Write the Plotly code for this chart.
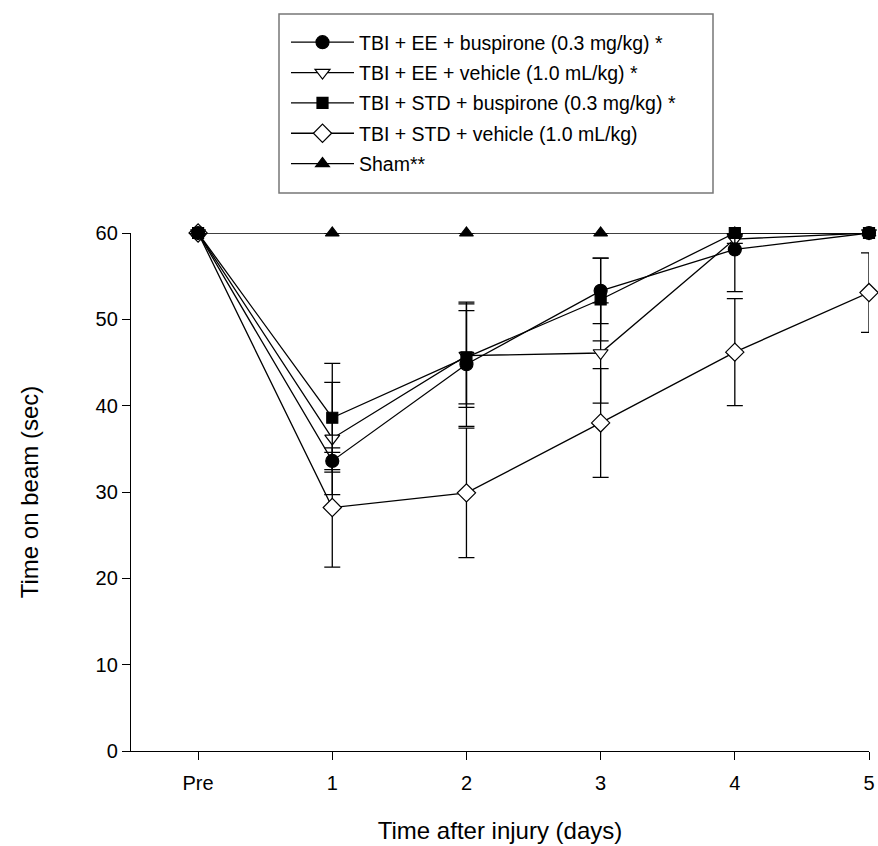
import numpy as np
import plotly.graph_objects as go

tick_labels = ["Pre", "1", "2", "3", "4", "5"]
x_pos = [0, 1, 2, 3, 4, 5]

names = [
    "TBI + EE + buspirone (0.3 mg/kg) *",
    "TBI + EE + vehicle (1.0 mL/kg) *",
    "TBI + STD + buspirone (0.3 mg/kg) *",
    "TBI + STD + vehicle (1.0 mL/kg)",
    "Sham**",
]

ee_busp = [60, 33.6, 44.8, 53.3, 58.1, 60]
ee_busp_err = [0, 1.0, 7.2, 3.8, 4.9, 0]
ee_veh = [60, 36.2, 45.8, 46.1, 59.3, 60]
ee_veh_err = [0, 6.5, 6.0, 5.8, 0.5, 0]
std_busp = [60, 38.6, 45.6, 52.3, 60, 60]
std_busp_err = [0, 6.3, 5.4, 4.8, 0, 0]
std_veh = [60, 28.2, 29.9, 38.0, 46.2, 53.1]
std_veh_err = [0, 6.9, 7.5, 6.3, 6.2, 4.6]
sham = [60, 60, 60, 60, 60, 60]
sham_err = [0, 0, 0, 0, 0, 0]

series = [
    (names[4], sham, sham_err, "triangle-up", "black", 12),
    (names[3], std_veh, std_veh_err, "diamond", "white", 14),
    (names[1], ee_veh, ee_veh_err, "triangle-down", "white", 13),
    (names[0], ee_busp, ee_busp_err, "circle", "black", 13),
    (names[2], std_busp, std_busp_err, "square", "black", 11),
]
legend_rank = {names[i]: i for i in range(5)}

fig = go.Figure()
for name, y, err, sym, fill, size in series:
    y = np.array(y, dtype=float)
    err = np.array(err, dtype=float)
    up = np.minimum(err, 60 - y)
    fig.add_trace(go.Scatter(
        x=x_pos, y=y, name=name, mode="lines+markers",
        line=dict(color="black", width=1.3),
        marker=dict(symbol=sym, size=size, color=fill,
                    line=dict(color="black", width=1.2)),
        error_y=dict(type="data", symmetric=False, array=up, arrayminus=err,
                     color="black", thickness=1.3, width=8),
        cliponaxis=False,
        legendgroup="g%d" % legend_rank[name],
        legendrank=legend_rank[name],
    ))

# plot area in screen pixels: x 131..869, y 233..751
px0, px1, py0, py1 = 131, 869, 233, 751
def paper_x(px):
    return (px - px0) / (px1 - px0)
def paper_y(py):
    return (py1 - py) / (py1 - py0)

font_family = "Arial, Liberation Sans, sans-serif"
fig.add_shape(type="rect", xref="paper", yref="paper",
              x0=paper_x(279), x1=paper_x(713), y0=paper_y(193), y1=paper_y(14),
              line=dict(color="#777777", width=1.5), fillcolor="rgba(0,0,0,0)")

fig.update_layout(
    template="none",
    width=878, height=846,
    margin=dict(l=131, r=9, t=233, b=95, autoexpand=False),
    plot_bgcolor="white", paper_bgcolor="white",
    font=dict(family=font_family, color="black", size=20),
    showlegend=True,
    legend=dict(
        x=paper_x(286), y=paper_y(23), xanchor="left", yanchor="top",
        borderwidth=0, bgcolor="rgba(0,0,0,0)",
        font=dict(size=19.5, family=font_family),
        itemwidth=63, tracegroupgap=2,
        traceorder="grouped",
    ),
    xaxis=dict(
        range=[-0.5, 5], tickvals=x_pos, ticktext=tick_labels,
        showline=True, linecolor="black", linewidth=1.3, automargin=False,
        ticks="outside", ticklen=8, tickwidth=1.3, tickcolor="black",
        tickfont=dict(size=20), ticklabeloverflow="allow", ticklabelstandoff=6,
        showgrid=False, zeroline=False,
        title=dict(text="Time after injury (days)", font=dict(size=24), standoff=29),
    ),
    yaxis=dict(
        range=[0, 60], tickvals=[0, 10, 20, 30, 40, 50, 60],
        showline=True, linecolor="black", linewidth=1.3, automargin=False,
        ticks="outside", ticklen=8, tickwidth=1.3, tickcolor="black",
        tickfont=dict(size=20),
        showgrid=False, zeroline=False,
        title=dict(text="Time on beam (sec)", font=dict(size=24), standoff=50),
    ),
)

fig.write_html(
    "out.html",
    config={"displayModeBar": False},
    post_script="document.body.style.margin='0';document.body.style.overflow='hidden';",
)
